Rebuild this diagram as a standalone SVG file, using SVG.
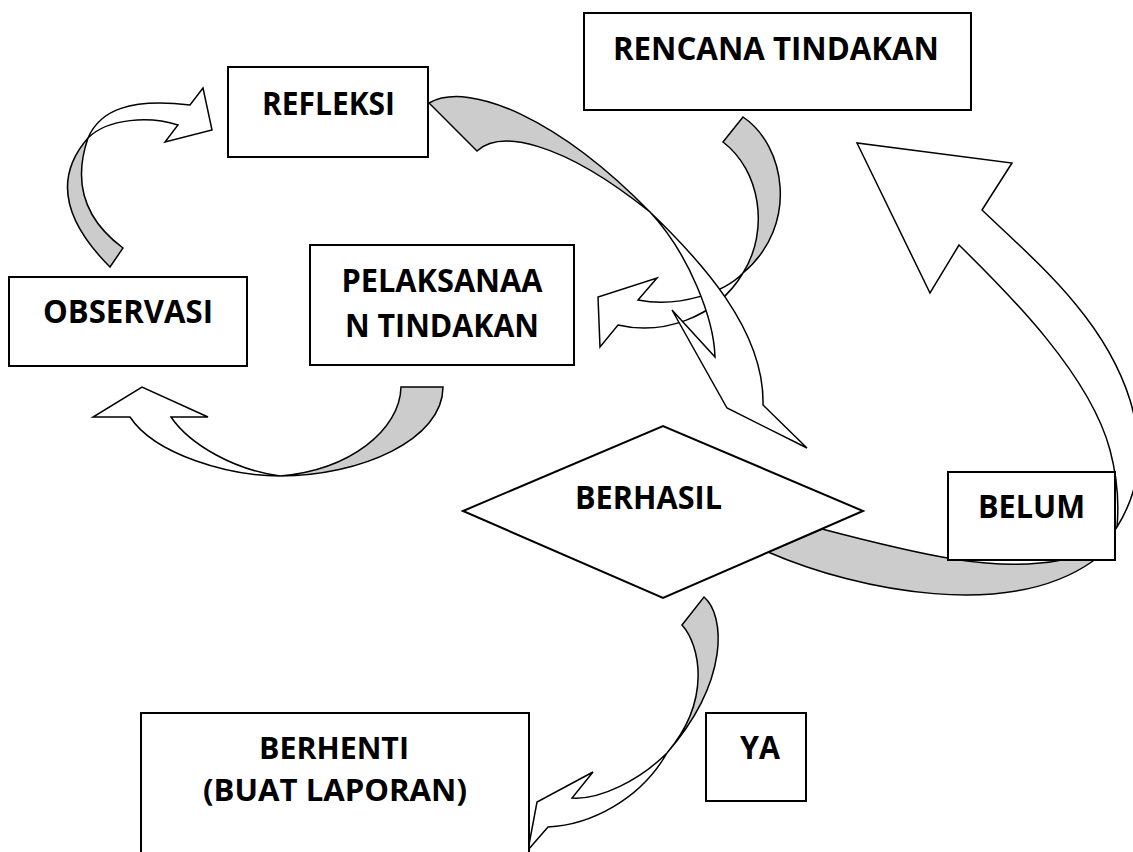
<svg xmlns="http://www.w3.org/2000/svg" width="1133" height="852" viewBox="0 0 1133 852">
<style>
.box{fill:#fff;stroke:#000;stroke-width:2}
.back{fill:#cccccc;stroke:#000;stroke-width:1.5;stroke-linejoin:miter}
.front{fill:#fff;stroke:#000;stroke-width:1.5;stroke-linejoin:miter}
.t{font-family:"Open Sans","Liberation Sans",sans-serif;font-weight:700;font-size:33px;fill:#000;text-anchor:middle}
.s{font-size:30px}
</style>
<rect width="1133" height="852" fill="#fff"/>
<g id="connectors">
  <g id="arrow-observasi-refleksi">
    <path class="back" d="M110,267 Q38,195 88,138 Q65,205 123,248 Z"/>
    <path class="front" d="M88,138 C100,110 130,98 190,105 L203,88 L212,130 L165,142 L178,125 C150,116 108,118 88,138 Z"/>
  </g>
  <g id="arrow-pelaksanaan-observasi">
    <path class="back" d="M401,387 L443,387 C443,440 360,476 280,476 C350,470 400,430 401,387 Z"/>
    <path class="front" d="M280,476 C230,476 155,455 130,417 L93,417 L142,387 L208,417 L171,417 C190,445 235,470 280,476 Z"/>
  </g>
  <g id="arrow-rencana-pelaksanaan">
    <path class="back" d="M723,142 L743,117 C785,145 800,225 743,273 C770,230 760,170 723,142 Z"/>
    <path class="front" d="M743,273 C725,292 680,308 638,300 L657,278 L598,297 L600,347 L618,325 C660,335 715,320 743,273 Z"/>
  </g>
  <g id="arrow-refleksi-berhasil">
    <path class="back" d="M429,103 C470,80 560,120 650,212 C560,140 500,130 477,151 Z"/>
    <path class="front" d="M650,212 C700,260 765,330 763,405 L807,448 L727,408 L672,310 L715,357 C714,320 690,255 650,212 Z"/>
  </g>
  <g id="arrow-berhasil-belum-rencana">
    <path class="back" d="M768,552 C860,592 1010,620 1093,561 L1117,527 C1090,555 1060,562 1040,563 C990,568 940,560 822,529 Z"/>
    <path class="front" d="M1117,527 C1140,490 1145,450 1130,400 C1105,320 1040,265 982,210 L1012,163 L857,143 L930,293 L959,245 C1010,295 1090,375 1110,450 C1118,480 1119,505 1117,527 Z"/>
  </g>
  <g id="arrow-berhasil-berhenti">
    <path class="back" d="M682,625 L704,597 C725,615 730,680 667,753 C712,700 700,645 682,625 Z"/>
    <path class="front" d="M667,753 C640,780 600,800 572,798 L593,772 L537,802 L528,850 L548,827 C590,825 640,800 667,753 Z"/>
  </g>
</g>
<g id="node-refleksi">
  <rect class="box" x="228" y="67" width="200" height="90"/>
  <text class="t" x="328.5" y="115" textLength="133" lengthAdjust="spacingAndGlyphs">REFLEKSI</text>
</g>
<g id="node-rencana">
  <rect class="box" x="584" y="13" width="387" height="97"/>
  <text class="t" x="776" y="60" textLength="326" lengthAdjust="spacingAndGlyphs">RENCANA TINDAKAN</text>
</g>
<g id="node-observasi">
  <rect class="box" x="9" y="277" width="238" height="89"/>
  <text class="t" x="128" y="323" textLength="170" lengthAdjust="spacingAndGlyphs">OBSERVASI</text>
</g>
<g id="node-pelaksanaan">
  <rect class="box" x="310" y="245" width="264" height="120"/>
  <text class="t" x="442" y="292" textLength="201" lengthAdjust="spacingAndGlyphs">PELAKSANAA</text>
  <text class="t" x="442" y="337" textLength="194" lengthAdjust="spacingAndGlyphs">N TINDAKAN</text>
</g>
<g id="node-berhasil">
  <polygon class="box" points="463,511 663,426 863,511 663,598"/>
  <text class="t" x="648.5" y="509" textLength="147" lengthAdjust="spacingAndGlyphs">BERHASIL</text>
</g>
<g id="node-belum">
  <rect class="box" x="948" y="472" width="167" height="88"/>
  <text class="t" x="1031.5" y="518" textLength="107" lengthAdjust="spacingAndGlyphs">BELUM</text>
</g>
<g id="node-ya">
  <rect class="box" x="706" y="713" width="100" height="88"/>
  <text class="t" x="760" y="759" textLength="40" lengthAdjust="spacingAndGlyphs">YA</text>
</g>
<g id="node-berhenti">
  <rect class="box" x="141" y="713" width="388" height="160"/>
  <text class="t s" x="334" y="759" textLength="150" lengthAdjust="spacingAndGlyphs">BERHENTI</text>
  <text class="t s" x="335" y="801" textLength="264" lengthAdjust="spacingAndGlyphs">(BUAT LAPORAN)</text>
</g>
</svg>
